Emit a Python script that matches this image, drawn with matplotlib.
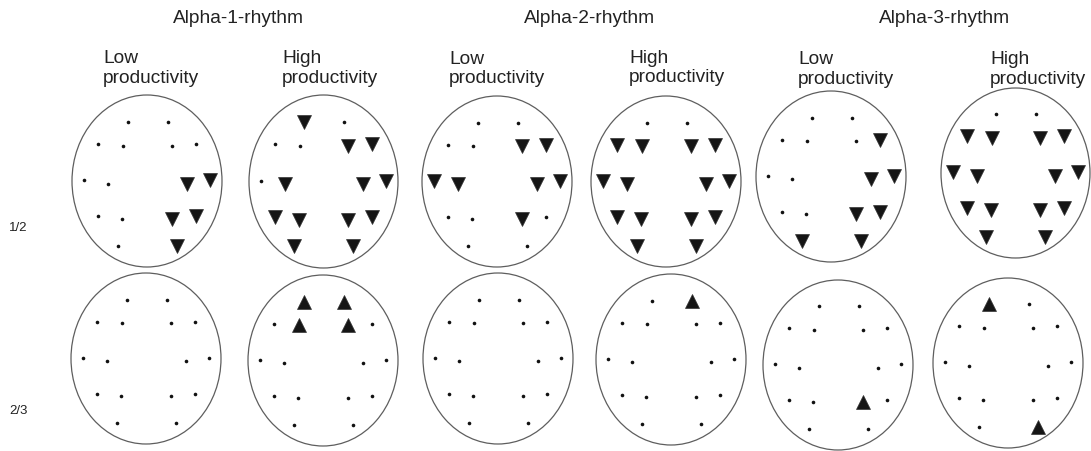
import matplotlib
matplotlib.use('Agg')
import matplotlib.pyplot as plt
from matplotlib.patches import Ellipse

plt.rcParams['font.family'] = ['Liberation Sans', 'DejaVu Sans']

# ---------------- data ----------------
rhythms = ['Alpha-1-rhythm', 'Alpha-2-rhythm', 'Alpha-3-rhythm']
groups = ['Low\nproductivity', 'High\nproductivity']
row_labels = ['1/2', '2/3']

electrodes = ['Fp1', 'Fp2', 'F7', 'F3', 'F4', 'F8', 'T3', 'C3',
              'C4', 'T4', 'T5', 'P3', 'P4', 'T6', 'O1', 'O2']
elec_x = [-0.26, 0.28, -0.65, -0.32, 0.33, 0.65, -0.84, -0.52,
          0.53, 0.84, -0.65, -0.33, 0.33, 0.65, -0.39, 0.40]
elec_y = [0.69, 0.69, 0.43, 0.41, 0.41, 0.43, 0.01, -0.03,
          -0.03, 0.01, -0.41, -0.44, -0.44, -0.41, -0.75, -0.75]

# row 1 (1/2): electrodes with significant decrease (down triangles)
row1_decrease = [
    ['C4', 'T4', 'P4', 'T6', 'O2'],
    ['Fp1', 'F4', 'F8', 'C3', 'C4', 'T4', 'T5', 'P3', 'P4', 'T6', 'O1', 'O2'],
    ['F4', 'F8', 'T3', 'C3', 'C4', 'T4', 'P4'],
    ['F7', 'F3', 'F4', 'F8', 'T3', 'C3', 'C4', 'T4', 'T5', 'P3', 'P4', 'T6', 'O1', 'O2'],
    ['F8', 'C4', 'T4', 'P4', 'T6', 'O1', 'O2'],
    ['F7', 'F3', 'F4', 'F8', 'T3', 'C3', 'C4', 'T4', 'T5', 'P3', 'P4', 'T6', 'O1', 'O2'],
]
# row 2 (2/3): electrodes with significant increase (up triangles)
row2_increase = [
    [],
    ['Fp1', 'Fp2', 'F3', 'F4'],
    [],
    ['Fp2'],
    ['P4'],
    ['Fp1', 'O2'],
]

# ---------------- layout (pixels) ----------------
W, H = 1091, 451
fig = plt.figure(figsize=(W / 100, H / 100), dpi=100)

head_boxes = [
    [(72, 222, 95, 267), (249, 398, 95, 268), (422, 572, 96, 267),
     (591, 741, 96, 267), (756, 906, 91, 262), (941, 1090, 88, 258)],
    [(71, 221, 273, 444), (248, 398, 275, 446), (423, 573, 273, 444),
     (596, 746, 274, 445), (763, 913, 280, 450), (933, 1083, 278, 448)],
]

def draw_head(box, special, marker):
    x0, x1, y0, y1 = box
    ax = fig.add_axes([x0 / W, 1 - y1 / H, (x1 - x0) / W, (y1 - y0) / H])
    ax.set_xlim(-1, 1)
    ax.set_ylim(-1, 1)
    ax.axis('off')
    ax.add_patch(Ellipse((0, 0), 2, 2, facecolor='none', edgecolor='#5e5e5e',
                         lw=0.9, clip_on=False))
    nx = [x for e, x in zip(electrodes, elec_x) if e not in special]
    ny = [y for e, y in zip(electrodes, elec_y) if e not in special]
    sx = [x for e, x in zip(electrodes, elec_x) if e in special]
    sy = [y for e, y in zip(electrodes, elec_y) if e in special]
    ax.plot(nx, ny, 'o', ms=2.6, color='#111111', mew=0, clip_on=False)
    ax.plot(sx, sy, marker, ms=9.5, color='#151515', mec='#333333', mew=0.5,
            ls='none', clip_on=False)

for i in range(6):
    draw_head(head_boxes[0][i], row1_decrease[i], 'v')
    draw_head(head_boxes[1][i], row2_increase[i], '^')

# ---------------- text ----------------
txt_color = '#222222'
title_x = [238, 590, 945]
for t, x in zip(rhythms, title_x):
    fig.text(x / W, 1 - 23 / H, t, ha='center', va='baseline', fontsize=13.8,
             color=txt_color)

group_x = [103, 282, 449, 629, 798, 990]
group_baselines = [(63, 83), (63, 83), (64, 83), (63, 82), (64, 84), (64, 84)]
for i, (x, bl) in enumerate(zip(group_x, group_baselines)):
    for line, y in zip(groups[i % 2].split('\n'), bl):
        fig.text(x / W, 1 - y / H, line, ha='left', va='baseline',
                 fontsize=13.8, color=txt_color)

row_label_y = [228, 411]
for lab, y in zip(row_labels, row_label_y):
    fig.text(9 / W, 1 - y / H, lab, ha='left', va='center', fontsize=9.5,
             color=txt_color)

fig.savefig('out.png', dpi=100, facecolor='white')
